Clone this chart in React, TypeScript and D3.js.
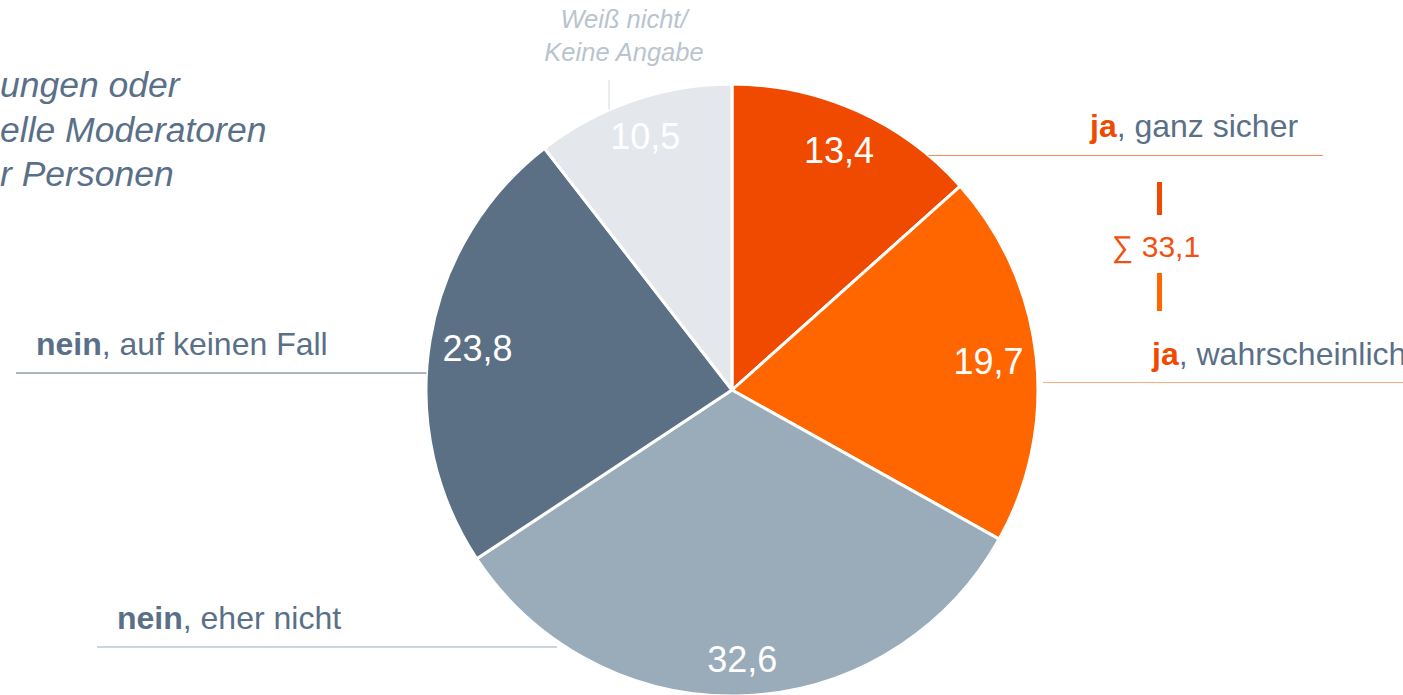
import React from "react";
import * as d3 from "d3";

const categories = ["ja, ganz sicher", "ja, wahrscheinlich", "nein, eher nicht", "nein, auf keinen Fall", "Weiß nicht/Keine Angabe"];
const values = [13.4, 19.7, 32.6, 23.8, 10.5];
const valueLabels = ["13,4", "19,7", "32,6", "23,8", "10,5"];
const sliceColors = ["#f04a00", "#ff6600", "#9aabba", "#5c7085", "#e4e8ed"];
const titleLines = ["ungen oder", "elle Moderatoren", "r Personen"];
const sumLabel = "∑ 33,1";

const W = 1403, H = 695;
const CX = 732, CY = 390, R = 306;
const FONT = "'Liberation Sans', Arial, sans-serif";
const TEXT = "#5a7088";

export default function App() {
  React.useEffect(() => { document.body.style.margin = "0"; }, []);
  const pie = d3.pie<number>().sort(null).startAngle(0).endAngle(2 * Math.PI)(values);
  const arc = d3.arc<d3.PieArcDatum<number>>().innerRadius(0).outerRadius(R);
  const labelR = [262, 258, 270, 258, 268];
  return (
    <svg width={W} height={H} style={{ position: "absolute", left: 0, top: 0, fontFamily: FONT }}>
      <rect width={W} height={H} fill="#fff" />
      {/* title fragment */}
      {titleLines.map((t, i) => (
        <text key={i} x={0} y={97 + i * 44.5} fontSize={35.5} fontStyle="italic" fill={TEXT}>{t}</text>
      ))}
      {/* pie */}
      <g transform={`translate(${CX},${CY})`}>
        {pie.map((d, i) => (
          <path key={i} d={arc(d) || ""} fill={sliceColors[i]} stroke="#fff" strokeWidth={3} strokeLinejoin="round" />
        ))}
        {pie.map((d, i) => {
          const a = (d.startAngle + d.endAngle) / 2;
          const x = Math.sin(a) * labelR[i];
          const y = -Math.cos(a) * labelR[i];
          return (
            <text key={i} x={x} y={y} fill="#fff" fontSize={36} textAnchor="middle" dominantBaseline="central">{valueLabels[i]}</text>
          );
        })}
      </g>
      {/* Weiß nicht label */}
      <line x1={609} y1={80} x2={609} y2={CY - Math.sqrt(R * R - (CX - 609) ** 2)} stroke="#d4d9df" strokeWidth={1} />
      <text x={624} y={28} textAnchor="middle" fontSize={25.5} fontStyle="italic" fill="#b9c4cf">Weiß nicht/</text>
      <text x={624} y={61} textAnchor="middle" fontSize={25.5} fontStyle="italic" fill="#b9c4cf">Keine Angabe</text>
      {/* ja, ganz sicher */}
      <line x1={CX + Math.sqrt(R * R - (CY - 155.5) ** 2)} y1={155.5} x2={1323} y2={155.5} stroke="#f28a60" strokeWidth={1.2} />
      <text x={1090} y={137} fontSize={32} fill={TEXT}>
        <tspan fontWeight="bold" fill="#f04a00">ja</tspan>, ganz sicher
      </text>
      {/* sum */}
      <rect x={1157} y={182} width={5} height={33} fill="#f04a00" />
      <text x={1112} y={257} fontSize={30} fill="#f25010">{sumLabel}</text>
      <rect x={1157} y={273} width={5} height={38} fill="#ff6600" />
      {/* ja, wahrscheinlich */}
      <line x1={1043} y1={382.5} x2={W} y2={382.5} stroke="#ffae80" strokeWidth={1.2} />
      <text x={1152} y={365} fontSize={32} fill={TEXT}>
        <tspan fontWeight="bold" fill="#f04a00">ja</tspan>, wahrscheinlich
      </text>
      {/* nein, auf keinen Fall */}
      <line x1={16} y1={373} x2={CX - Math.sqrt(R * R - (CY - 373) ** 2)} y2={373} stroke="#5c7085" strokeWidth={1} />
      <text x={36} y={355} fontSize={32} fill={TEXT}>
        <tspan fontWeight="bold">nein</tspan>, auf keinen Fall
      </text>
      {/* nein, eher nicht */}
      <line x1={97} y1={647} x2={557} y2={647} stroke="#9aabba" strokeWidth={1} />
      <text x={117} y={629} fontSize={32} fill={TEXT}>
        <tspan fontWeight="bold">nein</tspan>, eher nicht
      </text>
    </svg>
  );
}
